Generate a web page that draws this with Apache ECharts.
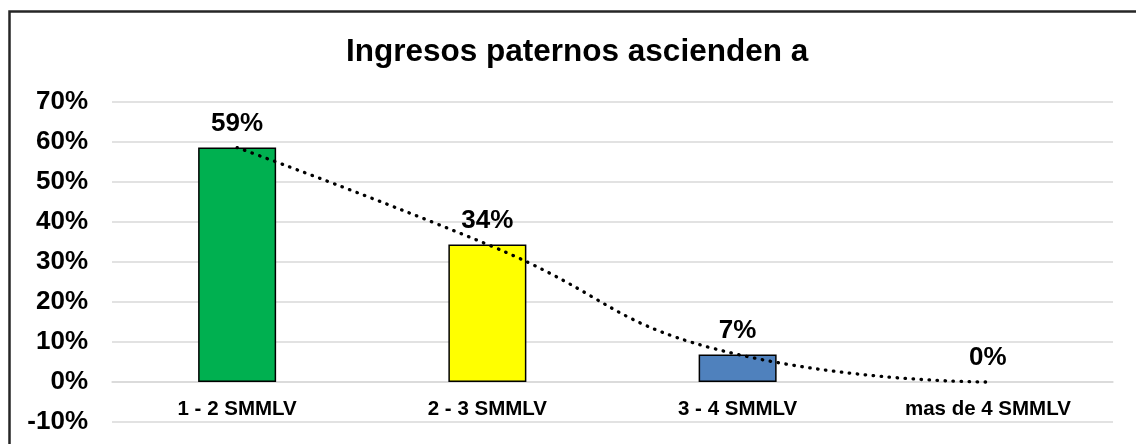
<!DOCTYPE html>
<html>
<head>
<meta charset="utf-8">
<title>Ingresos paternos ascienden a</title>
<script src="https://cdn.jsdelivr.net/npm/echarts@6/dist/echarts.min.js"></script>
<style>
  html, body { margin: 0; padding: 0; background: #fff; }
  #myChart_bar { width: 1136px; height: 444px; }
</style>
</head>
<body>
<div id="myChart_bar"></div>
<script>
// datos del gráfico
const categorias = ['1 - 2 SMMLV', '2 - 3 SMMLV', '3 - 4 SMMLV', 'mas de 4 SMMLV']
const porcentajes = [58.6, 34.4, 6.9, 0]
const colores = ['#00B050', '#FFFF00', '#4F81BD', '#4F81BD']
const ejeY = { min: -10, max: 70, paso: 10 }

const fuente = "'Liberation Sans', Arial, sans-serif"

let myChart = echarts.init(document.getElementById('myChart_bar'))

myChart.setOption({
  animation: false,
  backgroundColor: '#ffffff',
  title: {
    text: 'Ingresos paternos ascienden a',
    left: 341,
    top: 31,
    textStyle: {
      fontFamily: fuente,
      fontSize: 31.5,
      fontWeight: 'bold',
      color: '#000',
    },
  },
  // marco del gráfico
  graphic: [
    {
      type: 'rect',
      shape: { x: 9.5, y: 11.5, width: 1200, height: 600 },
      style: { fill: 'none', stroke: '#262626', lineWidth: 2.5 },
      silent: true,
    },
  ],
  grid: {
    left: 112,
    right: 23,
    top: 102,
    bottom: 22,
    containLabel: false,
    outerBoundsMode: 'none',
  },
  xAxis: {
    type: 'category',
    data: categorias,
    axisLine: {
      show: true,
      onZero: true,
      lineStyle: { color: '#d9d9d9', width: 1.5 },
    },
    axisTick: { show: false },
    axisLabel: {
      margin: -23,
      fontFamily: fuente,
      fontSize: 20.5,
      fontWeight: 'bold',
      color: '#000',
    },
  },
  yAxis: {
    type: 'value',
    min: ejeY.min,
    max: ejeY.max,
    interval: ejeY.paso,
    axisLine: { show: false },
    axisTick: { show: false },
    splitLine: {
      show: true,
      lineStyle: { color: '#d9d9d9', width: 1.5 },
    },
    axisLabel: {
      margin: 24,
      formatter: '{value}%',
      fontFamily: fuente,
      fontSize: 26,
      fontWeight: 'bold',
      color: '#000',
    },
  },
  series: [
    {
      name: 'Ingresos',
      type: 'bar',
      barWidth: 78,
      data: porcentajes.map((v, i) => ({
        value: v,
        itemStyle: {
          color: colores[i],
          borderColor: '#000',
          borderWidth: v === 0 ? 0 : 1.5,
        },
      })),
      label: {
        show: true,
        position: 'top',
        distance: 11,
        formatter: (p) => Math.round(p.value) + '%',
        fontFamily: fuente,
        fontSize: 26,
        fontWeight: 'bold',
        color: '#000',
      },
      z: 2,
    },
    {
      // línea de tendencia
      name: 'Tendencia',
      type: 'line',
      data: porcentajes,
      smooth: 0.5,
      showSymbol: false,
      lineStyle: {
        color: '#000',
        width: 3.3,
        type: [0.5, 7.5],
        cap: 'round',
      },
      z: 3,
    },
  ],
})
</script>
</body>
</html>
